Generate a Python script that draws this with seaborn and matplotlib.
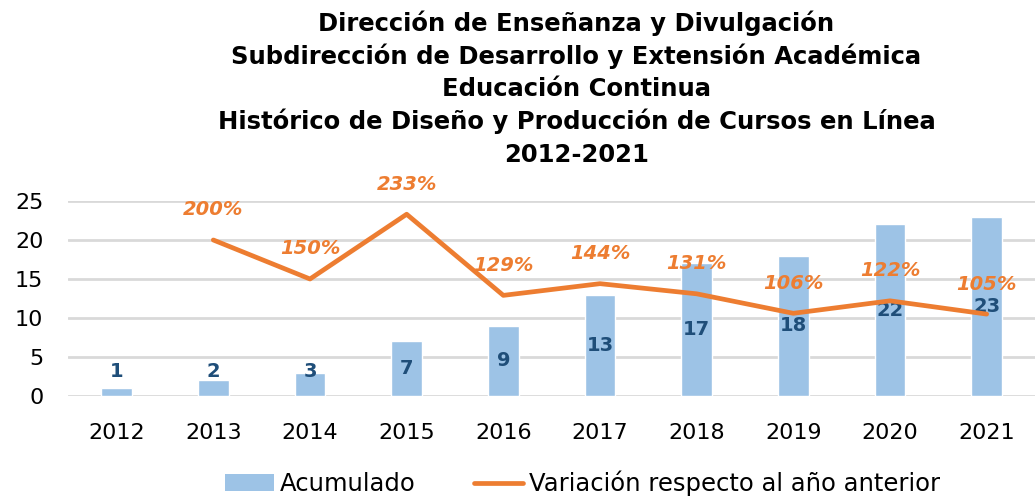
import numpy as np
import pandas as pd
import matplotlib
matplotlib.use("Agg")
import matplotlib.pyplot as plt
import seaborn as sns
from matplotlib.patches import Patch
from matplotlib.lines import Line2D

years = ["2012", "2013", "2014", "2015", "2016", "2017", "2018", "2019", "2020", "2021"]
acumulado = [1, 2, 3, 7, 9, 13, 17, 18, 22, 23]
var_years = ["2013", "2014", "2015", "2016", "2017", "2018", "2019", "2020", "2021"]
variacion = [200, 150, 233, 129, 144, 131, 106, 122, 105]

title_lines = [
    "Dirección de Enseñanza y Divulgación",
    "Subdirección de Desarrollo y Extensión Académica",
    "Educación Continua",
    "Histórico de Diseño y Producción de Cursos en Línea",
    "2012-2021",
]

sns.set_theme(style="white")
plt.rcParams['font.family'] = ['DejaVu Sans']
plt.rcParams['text.color'] = "#000000"

BAR = "#9DC3E6"
LINE = "#ED7D31"
LAB = "#1F4E79"
GRID = "#D9D9D9"

W, H = 1035, 496
fig = plt.figure(figsize=(W / 100, H / 100), dpi=100)
ax = fig.add_axes([0.066, 0.2016, 0.934, 0.3932])

df = pd.DataFrame({"year": years, "val": acumulado})
sns.barplot(data=df, x="year", y="val", color=BAR, width=0.32, ax=ax, saturation=1)
ax.set_ylim(0, 25)
ax.set_xlim(-0.5, len(years) - 0.5)
ax.set_yticks([0, 5, 10, 15, 20, 25])
ax.yaxis.grid(True, color=GRID, linewidth=2)
ax.set_axisbelow(True)
for s in ax.spines.values():
    s.set_visible(False)
ax.set_xlabel("")
ax.set_ylabel("")
ax.tick_params(axis="both", length=0, labelsize=16, labelcolor="#000000")
ax.tick_params(axis="x", pad=19.5)
ax.tick_params(axis="y", pad=18)

for i, v in enumerate(acumulado):
    ax.text(i, max(v / 2, 3.1), str(v), ha="center", va="center",
            fontsize=14, fontweight="bold", color=LAB)

ax2 = ax.twinx()
xpos = [years.index(y) for y in var_years]
ldf = pd.DataFrame({"x": xpos, "v": variacion})
sns.lineplot(data=ldf, x="x", y="v", color=LINE, linewidth=3.4, ax=ax2)
ax2.set_ylim(0, 250)
ax2.set_xlim(-0.5, len(years) - 0.5)
ax2.axis("off")
for x, v in zip(xpos, variacion):
    ax2.annotate(f"{v}%", (x, v), xytext=(0, 30), textcoords="offset pixels",
                 ha="center", va="center", fontsize=14, fontweight="bold",
                 fontstyle="italic", color=LINE, annotation_clip=False)

baselines = [31.5, 64, 96.5, 129.5, 162]
for line, b in zip(title_lines, baselines):
    fig.text(0.557, 1 - b / H, line, ha="center", va="baseline",
             fontsize=17.5, fontweight="bold", color="#000000")

handles = [Patch(facecolor=BAR, edgecolor="none"),
           Line2D([0], [0], color=LINE, linewidth=3.4)]
fig.legend(handles, ["Acumulado", "Variación respecto al año anterior"],
           loc="center", bbox_to_anchor=(0.563, 0.025), ncol=2, frameon=False,
           fontsize=17.5, handlelength=2.0, handletextpad=0.25, columnspacing=2.4)

fig.savefig("out.png", dpi=100)
